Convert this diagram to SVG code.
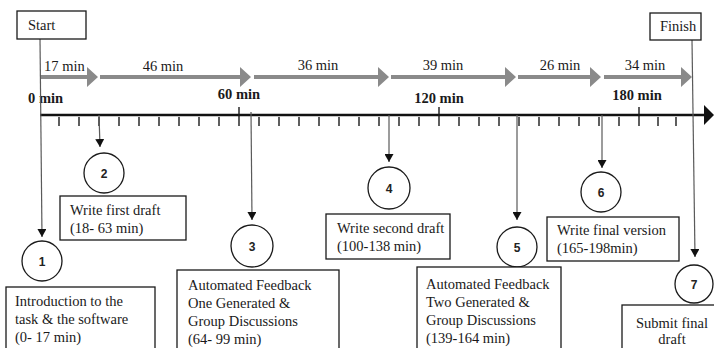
<svg xmlns="http://www.w3.org/2000/svg" width="714" height="348" viewBox="0 0 714 348">
<defs>
<style>
.t{font-family:"Liberation Serif","Times New Roman",serif;font-size:14.5px;fill:#1a1a1a}
.b{font-family:"Liberation Serif","Times New Roman",serif;font-size:14.5px;font-weight:bold;fill:#1a1a1a}
.n{font-family:"Liberation Sans",Arial,sans-serif;font-size:12px;font-weight:bold;fill:#222;text-anchor:middle}
.box{fill:#fff;stroke:#1a1a1a;stroke-width:1.3}
.c{fill:#fff;stroke:#1a1a1a;stroke-width:1.3}
.ev{stroke:#5a5a5a;stroke-width:1.2;fill:none}
.tk{stroke:#1a1a1a;stroke-width:1.4}
.dur{fill:#8a8a8a}
</style>
<marker id="ah" viewBox="0 0 8 9" refX="8" refY="4.5" markerWidth="8" markerHeight="9" markerUnits="userSpaceOnUse" orient="auto">
<path d="M0,0 L8,4.5 L0,9 Z" fill="#111"/>
</marker>
</defs>
<rect width="714" height="348" fill="#fff"/>

<g id="timeline">
<line x1="40" y1="115" x2="706" y2="115" stroke="#111" stroke-width="2.6"/>
<polygon points="704,105 714,115 704,125" fill="#111"/>
<g class="tk">
<line x1="59" y1="117" x2="59" y2="126"/><line x1="79" y1="117" x2="79" y2="126"/><line x1="99" y1="117" x2="99" y2="126"/><line x1="119" y1="117" x2="119" y2="126"/><line x1="139" y1="117" x2="139" y2="126"/><line x1="159" y1="117" x2="159" y2="126"/><line x1="179" y1="117" x2="179" y2="126"/><line x1="199" y1="117" x2="199" y2="126"/><line x1="219" y1="117" x2="219" y2="126"/>
<line x1="239" y1="107" x2="239" y2="126"/>
<line x1="259" y1="117" x2="259" y2="126"/><line x1="279" y1="117" x2="279" y2="126"/><line x1="299" y1="117" x2="299" y2="126"/><line x1="319" y1="117" x2="319" y2="126"/><line x1="339" y1="117" x2="339" y2="126"/><line x1="359" y1="117" x2="359" y2="126"/><line x1="379" y1="117" x2="379" y2="126"/><line x1="399" y1="117" x2="399" y2="126"/><line x1="419" y1="117" x2="419" y2="126"/>
<line x1="439" y1="107" x2="439" y2="126"/>
<line x1="459" y1="117" x2="459" y2="126"/><line x1="479" y1="117" x2="479" y2="126"/><line x1="499" y1="117" x2="499" y2="126"/><line x1="519" y1="117" x2="519" y2="126"/><line x1="539" y1="117" x2="539" y2="126"/><line x1="559" y1="117" x2="559" y2="126"/><line x1="579" y1="117" x2="579" y2="126"/><line x1="599" y1="117" x2="599" y2="126"/><line x1="619" y1="117" x2="619" y2="126"/>
<line x1="639" y1="107" x2="639" y2="126"/>
<line x1="658" y1="117" x2="658" y2="126"/><line x1="676" y1="117" x2="676" y2="126"/>
</g>
<text class="b" x="28" y="103">0 min</text>
<text class="b" x="239" y="99" text-anchor="middle">60 min</text>
<text class="b" x="439" y="103" text-anchor="middle">120 min</text>
<text class="b" x="637" y="100" text-anchor="middle">180 min</text>
</g>

<g id="durations">
<polygon class="dur" points="40,75 87,75 87,67 98,77 87,87 87,79 40,79"/>
<polygon class="dur" points="100,75 240,75 240,67 251,77 240,87 240,79 100,79"/>
<polygon class="dur" points="254,75 378,75 378,67 389,77 378,87 378,79 254,79"/>
<polygon class="dur" points="391,75 505,75 505,67 516,77 505,87 505,79 391,79"/>
<polygon class="dur" points="518,75 590,75 590,67 601,77 590,87 590,79 518,79"/>
<polygon class="dur" points="604,75 681,75 681,67 692,77 681,87 681,79 604,79"/>
<text class="t" x="44" y="71">17 min</text>
<text class="t" x="163" y="71" text-anchor="middle">46 min</text>
<text class="t" x="318" y="70" text-anchor="middle">36 min</text>
<text class="t" x="443" y="70" text-anchor="middle">39 min</text>
<text class="t" x="560" y="70" text-anchor="middle">26 min</text>
<text class="t" x="645" y="70" text-anchor="middle">34 min</text>
</g>

<g id="connectors">
<line class="ev" x1="40" y1="39" x2="42" y2="237" marker-end="url(#ah)"/>
<line class="ev" x1="99" y1="115" x2="100" y2="147" marker-end="url(#ah)"/>
<line class="ev" x1="251" y1="112" x2="252" y2="220" marker-end="url(#ah)"/>
<line class="ev" x1="389" y1="115" x2="389" y2="162" marker-end="url(#ah)"/>
<line class="ev" x1="517" y1="115" x2="517" y2="220" marker-end="url(#ah)"/>
<line class="ev" x1="602" y1="115" x2="602" y2="168" marker-end="url(#ah)"/>
<line class="ev" x1="692" y1="40" x2="695" y2="257" marker-end="url(#ah)"/>
</g>

<g id="start">
<rect class="box" x="17" y="11" width="69" height="28"/>
<text class="t" x="28" y="30">Start</text>
</g>
<g id="finish">
<rect class="box" x="650" y="13" width="51" height="27"/>
<text class="t" x="660" y="31">Finish</text>
</g>

<g id="step1">
<circle class="c" cx="42" cy="261" r="20"/>
<text class="n" x="42" y="265.5">1</text>
<rect class="box" x="6" y="287" width="149" height="70"/>
<text class="t" x="15" y="306">Introduction to the</text>
<text class="t" x="15" y="324">task &amp; the software</text>
<text class="t" x="15" y="342">(0- 17 min)</text>
</g>

<g id="step2">
<circle class="c" cx="104" cy="173" r="20"/>
<text class="n" x="104" y="177.5">2</text>
<rect class="box" x="60" y="196" width="126" height="44"/>
<text class="t" x="70" y="215">Write first draft</text>
<text class="t" x="70" y="233">(18- 63 min)</text>
</g>

<g id="step3">
<circle class="c" cx="252" cy="246" r="21"/>
<text class="n" x="252" y="250.5">3</text>
<rect class="box" x="177" y="270" width="162" height="90"/>
<text class="t" x="188" y="290">Automated Feedback</text>
<text class="t" x="188" y="308">One Generated &amp;</text>
<text class="t" x="188" y="326">Group Discussions</text>
<text class="t" x="188" y="344">(64- 99 min)</text>
</g>

<g id="step4">
<circle class="c" cx="389" cy="188" r="21"/>
<text class="n" x="389" y="192.5">4</text>
<rect class="box" x="326" y="214" width="124" height="45"/>
<text class="t" x="337" y="233">Write second draft</text>
<text class="t" x="337" y="251">(100-138 min)</text>
</g>

<g id="step5">
<circle class="c" cx="517" cy="247" r="20"/>
<text class="n" x="517" y="251.5">5</text>
<rect class="box" x="417" y="267" width="144" height="90"/>
<text class="t" x="426" y="289">Automated Feedback</text>
<text class="t" x="426" y="307">Two Generated &amp;</text>
<text class="t" x="426" y="325">Group Discussions</text>
<text class="t" x="426" y="343">(139-164 min)</text>
</g>

<g id="step6">
<circle class="c" cx="601" cy="192" r="20"/>
<text class="n" x="601" y="196.5">6</text>
<rect class="box" x="547" y="217" width="132" height="44"/>
<text class="t" x="557" y="235">Write final version</text>
<text class="t" x="557" y="253">(165-198min)</text>
</g>

<g id="step7">
<circle class="c" cx="694" cy="284" r="19"/>
<text class="n" x="694" y="288.5">7</text>
<rect class="box" x="622" y="305" width="100" height="60"/>
<text class="t" x="672" y="328" text-anchor="middle">Submit final</text>
<text class="t" x="672" y="344" text-anchor="middle">draft</text>
</g>
</svg>
